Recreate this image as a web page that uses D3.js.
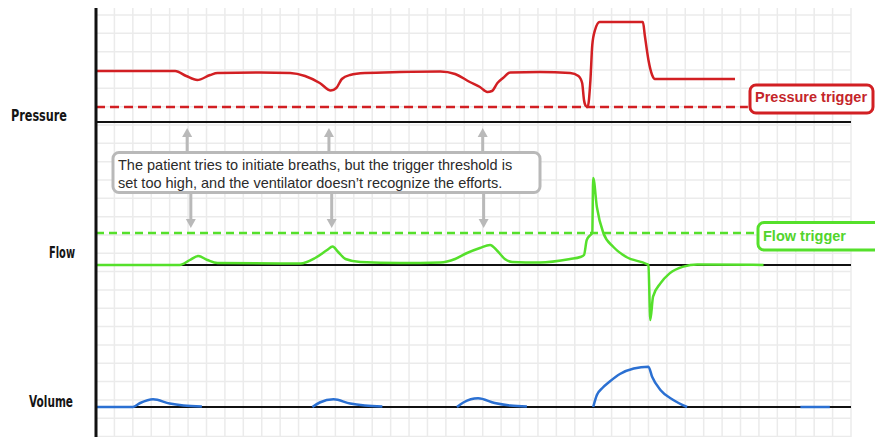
<!DOCTYPE html>
<html>
<head>
<meta charset="utf-8">
<script src="https://cdn.jsdelivr.net/npm/d3@7"></script>
<style>
  html, body { margin: 0; padding: 0; background: #fff; }
  svg { display: block; }
</style>
</head>
<body>
<svg id="chart" width="875" height="437"></svg>
<script>
// Ventilator waveforms: trigger set too high, missed patient efforts

// time in seconds, pressure in cmH2O
const pressurePoints = [
  [0, 10.2], [0.86, 10.2], [0.98, 9.2], [1.1, 8.4], [1.24, 9.4], [1.32, 9.8],
  [1.78, 9.9], [2.11, 9.8], [2.27, 9.2], [2.43, 7.8], [2.55, 6.3], [2.61, 6.8],
  [2.67, 8.6], [2.76, 9.4], [2.92, 9.8], [3.3, 10.0], [3.74, 10.1], [3.9, 9.6],
  [4.06, 8.0], [4.17, 7.0], [4.25, 6.0], [4.3, 6.2], [4.36, 7.8], [4.42, 8.8],
  [4.5, 9.9], [4.82, 10.0], [5.15, 9.8], [5.24, 9.2], [5.28, 7.8], [5.3, 4.4],
  [5.32, 3.2], [5.34, 3.0], [5.37, 8.4], [5.39, 15.4], [5.42, 18.4], [5.47, 20],
  [5.94, 20], [5.96, 17.4], [6.0, 12.4], [6.04, 9.4], [6.07, 8.6], [6.94, 8.6]
];

// flow in L/min
const flowPoints = [
  [0, 0], [0.91, 0], [1.02, 2.5], [1.11, 4.5], [1.21, 2.5], [1.32, 1],
  [2.22, 0.75], [2.38, 3.5], [2.51, 7.5], [2.57, 9.25], [2.63, 6.5], [2.71, 3],
  [2.87, 1.5], [3.3, 1], [3.74, 1.25], [3.9, 3], [4.03, 6], [4.17, 8.5],
  [4.28, 10], [4.36, 7], [4.44, 3], [4.52, 1.5], [4.82, 1.25], [5.15, 3],
  [5.26, 4], [5.3, 5], [5.33, 12.5], [5.37, 15], [5.39, 16], [5.4, 43.5],
  [5.44, 29], [5.51, 16], [5.62, 9], [5.76, 4], [5.98, 0.5], [6.0, 0],
  [6.02, -27.5], [6.05, -15.8], [6.13, -9.2], [6.23, -4.2], [6.38, -0.8],
  [6.53, 0.3], [7.25, 0]
];

// volume in mL, one list per visible segment
const volumeSegments = [
  [[0, 0], [0.4, 0], [0.48, 40], [0.62, 77], [0.8, 35], [0.95, 15], [1.15, 5]],
  [[2.35, 0], [2.43, 45], [2.58, 77], [2.76, 35], [2.92, 15], [3.11, 5]],
  [[3.92, 0], [3.99, 45], [4.15, 87], [4.33, 40], [4.5, 15], [4.68, 5]],
  [[5.4, 0], [5.44, 120], [5.5, 190], [5.58, 255], [5.69, 330], [5.84, 385],
   [6.0, 403], [6.04, 303], [6.13, 170], [6.27, 70], [6.42, 0]],
  [[7.65, 0], [7.97, 0]]
];

const pressureTrigger = 3.0;
const flowTrigger = 16;
const pressureTriggerEnd = 7.08;
const flowTriggerEnd = 7.18;
const panelNames = ['Pressure', 'Flow', 'Volume'];
const triggerLabels = ['Pressure trigger', 'Flow trigger'];
const calloutLines = [
  'The patient tries to initiate breaths, but the trigger threshold is',
  'set too high, and the ventilator doesn\u2019t recognize the efforts.'
];
const effortUpTimes = [0.99, 2.53, 4.2];
const effortDownTimes = [1.03, 2.56, 4.21];
const timeMax = 8.2;
const gridStep = 0.2;

(function() {
  'use strict';

  const svg = d3.select('#chart');
  const W = 875, H = 437;

  const red = '#d21f23';
  const green = '#55e02b';
  const blue = '#2b70d2';
  const gray = '#b9b9b9';

  const x = d3.scaleLinear().domain([0, timeMax]).range([96, 851]);
  const yP = d3.scaleLinear().domain([0, 20]).range([122, 22]);
  const yF = d3.scaleLinear().domain([0, 16]).range([265, 233]);
  const yV = d3.scaleLinear().domain([0, 400]).range([407, 367]);

  // background grid
  const grid = svg.append('g').attr('stroke', '#ebebeb').attr('stroke-width', 1.5);
  d3.range(0, timeMax + 0.001, gridStep).forEach(t => {
    grid.append('line')
      .attr('x1', x(t)).attr('x2', x(t))
      .attr('y1', 8).attr('y2', H);
  });
  d3.range(15, H, 18.33).forEach(gy => {
    grid.append('line')
      .attr('x1', x(0)).attr('x2', x(timeMax))
      .attr('y1', gy).attr('y2', gy);
  });

  // zero baselines
  [yP, yF, yV].forEach(s => {
    svg.append('line')
      .attr('x1', x(0)).attr('x2', x(timeMax))
      .attr('y1', s(0)).attr('y2', s(0))
      .attr('stroke', '#111').attr('stroke-width', 2);
  });

  // trigger thresholds
  svg.append('line')
    .attr('x1', x(0)).attr('x2', x(pressureTriggerEnd))
    .attr('y1', yP(pressureTrigger)).attr('y2', yP(pressureTrigger))
    .attr('stroke', red).attr('stroke-width', 2.5)
    .attr('stroke-dasharray', '9,5');

  svg.append('line')
    .attr('x1', x(0)).attr('x2', x(flowTriggerEnd))
    .attr('y1', yF(flowTrigger)).attr('y2', yF(flowTrigger))
    .attr('stroke', green).attr('stroke-width', 2.5)
    .attr('stroke-dasharray', '8,5');

  // waveforms
  const lineFor = ys => d3.line()
    .x(d => x(d[0]))
    .y(d => ys(d[1]))
    .curve(d3.curveMonotoneX);

  svg.append('path')
    .attr('d', lineFor(yP)(pressurePoints))
    .attr('fill', 'none').attr('stroke', red)
    .attr('stroke-width', 2.5).attr('stroke-linejoin', 'round');

  svg.append('path')
    .attr('d', lineFor(yF)(flowPoints))
    .attr('fill', 'none').attr('stroke', green)
    .attr('stroke-width', 2.5).attr('stroke-linejoin', 'round');

  volumeSegments.forEach(seg => {
    svg.append('path')
      .attr('d', lineFor(yV)(seg))
      .attr('fill', 'none').attr('stroke', blue)
      .attr('stroke-width', 2.5).attr('stroke-linejoin', 'round');
  });

  // trigger label boxes
  svg.append('rect')
    .attr('x', 750).attr('y', 85).attr('width', 123).attr('height', 28)
    .attr('rx', 6).attr('fill', '#fff')
    .attr('stroke', red).attr('stroke-width', 3);
  svg.append('text')
    .attr('x', 755).attr('y', 102)
    .attr('font-family', 'Liberation Sans, Arial, sans-serif')
    .attr('font-weight', 'bold').attr('font-size', 14.5)
    .attr('fill', '#c4252a')
    .text(triggerLabels[0]);

  svg.append('rect')
    .attr('x', 758).attr('y', 222.5).attr('width', 130).attr('height', 27.5)
    .attr('rx', 6).attr('fill', '#fff')
    .attr('stroke', green).attr('stroke-width', 3);
  svg.append('text')
    .attr('x', 763).attr('y', 241)
    .attr('font-family', 'Liberation Sans, Arial, sans-serif')
    .attr('font-weight', 'bold').attr('font-size', 14.5)
    .attr('fill', '#52d42c')
    .text(triggerLabels[1]);

  // arrows pointing at the missed efforts
  const arrows = svg.append('g');
  effortUpTimes.forEach(t => {
    const ax = x(t);
    arrows.append('line')
      .attr('x1', ax).attr('x2', ax).attr('y1', 153).attr('y2', 135)
      .attr('stroke', gray).attr('stroke-width', 3);
    arrows.append('path')
      .attr('d', `M${ax},128L${ax - 5},137L${ax + 5},137Z`)
      .attr('fill', gray);
  });
  effortDownTimes.forEach(t => {
    const ax = x(t);
    arrows.append('line')
      .attr('x1', ax).attr('x2', ax).attr('y1', 192).attr('y2', 220)
      .attr('stroke', gray).attr('stroke-width', 3);
    arrows.append('path')
      .attr('d', `M${ax},228L${ax - 5},219L${ax + 5},219Z`)
      .attr('fill', gray);
  });

  // callout
  svg.append('rect')
    .attr('x', 113).attr('y', 152.5).attr('width', 427).attr('height', 40)
    .attr('rx', 6).attr('fill', '#fff')
    .attr('stroke', gray).attr('stroke-width', 3);
  svg.append('g').selectAll('text')
    .data(calloutLines)
    .join('text')
    .attr('x', 118)
    .attr('y', (d, i) => 170 + i * 17.5)
    .attr('font-family', 'Liberation Sans, Arial, sans-serif')
    .attr('font-size', 14.5)
    .attr('fill', '#2b2b2b')
    .text(d => d);

  // panel names (condensed bold)
  const nameY = [121, 258, 407];
  const nameX = [11, 49, 29];
  const nameW = [56, 26, 44];
  svg.append('g').selectAll('text')
    .data(panelNames)
    .join('text')
    .attr('x', (d, i) => nameX[i])
    .attr('y', (d, i) => nameY[i])
    .attr('textLength', (d, i) => nameW[i])
    .attr('lengthAdjust', 'spacingAndGlyphs')
    .attr('font-family', 'DejaVu Sans, sans-serif')
    .attr('font-weight', 'bold').attr('font-size', 15)
    .attr('fill', '#151515')
    .text(d => d);

  // left axis
  svg.append('line')
    .attr('x1', x(0)).attr('x2', x(0))
    .attr('y1', 8).attr('y2', H)
    .attr('stroke', '#111').attr('stroke-width', 3);
})();
</script>
</body>
</html>
